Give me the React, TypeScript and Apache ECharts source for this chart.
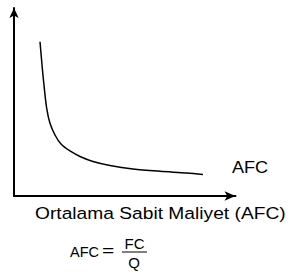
import React, { useEffect, useRef } from "react";
import * as echarts from "echarts";

// Quantity (Q) and average fixed cost (AFC), in axis units 0..100
const quantity = [11.74, 12.78, 13.68, 14.76, 16.25, 18.51, 21.22, 25.28, 29.8, 35.67, 43.34, 53.72, 65.91, 78.1, 85.33];
const afcValues = [82.07, 67.93, 57.29, 46.65, 38.67, 32.45, 27.66, 23.94, 21.01, 18.35, 16.22, 14.36, 13.14, 12.23, 11.44];
const curveLabel = "AFC";
const axisTitle = "Ortalama Sabit Maliyet (AFC)";
const formulaLeft = "AFC";
const formulaNum = "FC";
const formulaDen = "Q";

export default function App() {
  const ref = useRef<HTMLDivElement>(null);
  useEffect(() => {
    if (!ref.current) return;
    const chart = echarts.init(ref.current, null, { renderer: "svg" });
    const font = "'Liberation Sans', Arial, sans-serif";
    chart.setOption({
      animation: false,
      backgroundColor: "#ffffff",
      grid: { left: 14, top: 8, right: 52.5, bottom: 81 },
      xAxis: {
        type: "value",
        min: 0,
        max: 100,
        axisLine: {
          show: true,
          symbol: ["none", "arrow"],
          symbolSize: [7, 11],
          lineStyle: { color: "#000", width: 2 },
        },
        axisTick: { show: false },
        axisLabel: { show: false },
        splitLine: { show: false },
      },
      yAxis: {
        type: "value",
        min: 0,
        max: 100,
        axisLine: {
          show: true,
          symbol: ["none", "arrow"],
          symbolSize: [7, 10],
          lineStyle: { color: "#000", width: 2 },
        },
        axisTick: { show: false },
        axisLabel: { show: false },
        splitLine: { show: false },
      },
      series: [
        {
          type: "line",
          data: quantity.map((q, i) => [q, afcValues[i]]),
          smooth: 0.3,
          showSymbol: false,
          lineStyle: { color: "#000", width: 1.5 },
        },
      ],
      graphic: [
        {
          type: "text",
          x: 232,
          y: 167.5,
          scaleX: 1.13,
          style: { text: curveLabel, font: `16px ${font}`, fill: "#000", verticalAlign: "middle", align: "left" },
        },
        {
          type: "text",
          x: 35,
          y: 213,
          scaleX: 1.13,
          style: { text: axisTitle, font: `17px ${font}`, fill: "#000", verticalAlign: "middle", align: "left" },
        },
        {
          type: "text",
          x: 70,
          y: 252,
          style: { text: formulaLeft, font: `14.5px ${font}`, fill: "#000", verticalAlign: "middle", align: "left" },
        },
        {
          type: "text",
          x: 108,
          y: 251.5,
          scaleX: 1.5,
          style: { text: "=", font: `14px ${font}`, fill: "#000", verticalAlign: "middle", align: "center" },
        },
        {
          type: "text",
          x: 134.5,
          y: 243.5,
          style: { text: formulaNum, font: `15px ${font}`, fill: "#000", verticalAlign: "middle", align: "center" },
        },
        {
          type: "line",
          shape: { x1: 122, y1: 252, x2: 147, y2: 252 },
          style: { stroke: "#000", lineWidth: 1 },
        },
        {
          type: "text",
          x: 134,
          y: 262,
          style: { text: formulaDen, font: `15px ${font}`, fill: "#000", verticalAlign: "middle", align: "center" },
        },
      ],
    });
    return () => chart.dispose();
  }, []);
  return (
    <div
      ref={ref}
      style={{ position: "fixed", left: 0, top: 0, width: 288, height: 277, background: "#fff" }}
    />
  );
}
